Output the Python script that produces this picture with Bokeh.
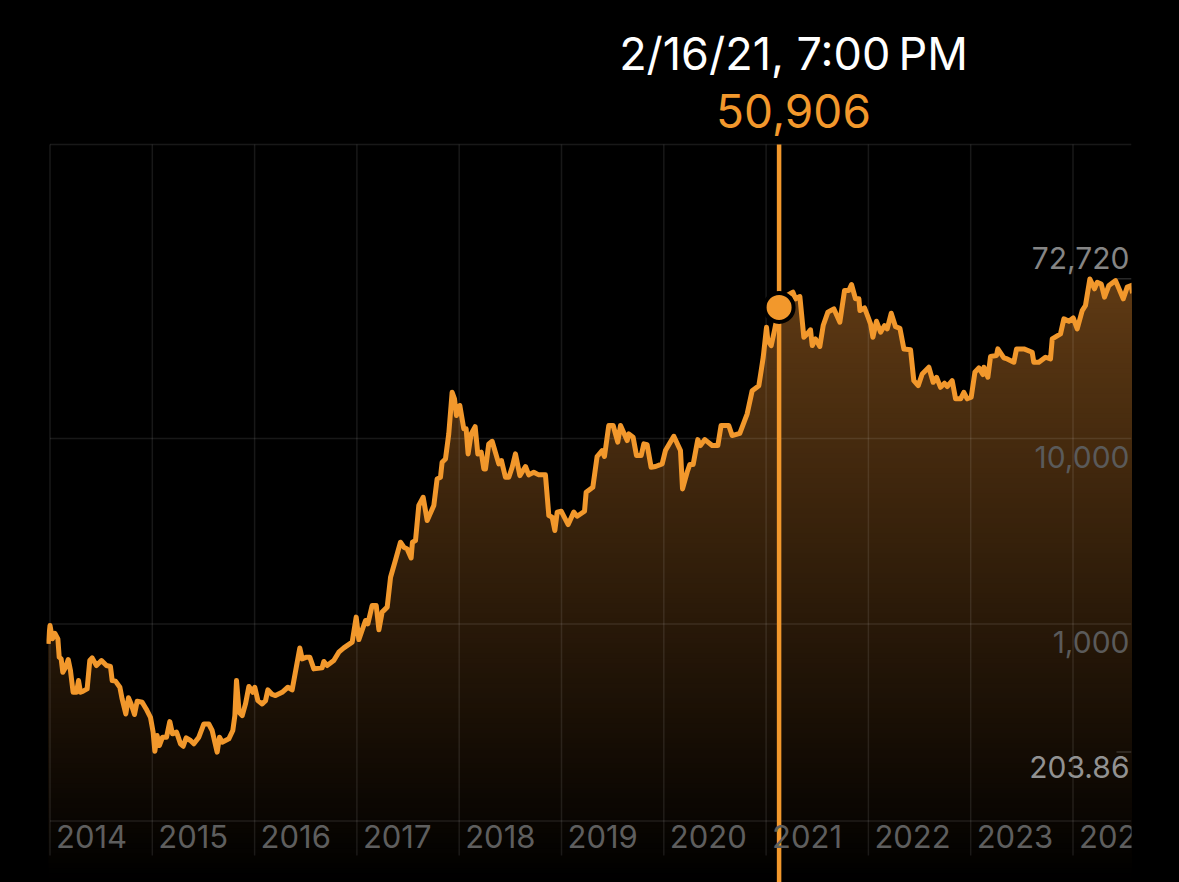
import numpy as np
from bokeh.plotting import figure
from bokeh.models import Range1d
from bokeh.core.properties import value
from bokeh.embed import file_html
from bokeh.resources import INLINE

# Price history (decimal year, log10 of price)
btc_year = [
    2013.982, 2014.000, 2014.024, 2014.047, 2014.077, 2014.090, 2014.109, 2014.125, 2014.152, 2014.178,
    2014.200, 2014.226, 2014.259, 2014.279, 2014.298, 2014.324, 2014.363, 2014.389, 2014.412, 2014.454,
    2014.503, 2014.552, 2014.591, 2014.608, 2014.640, 2014.683, 2014.705, 2014.741, 2014.767, 2014.793,
    2014.826, 2014.852, 2014.901, 2014.940, 2014.982, 2015.008, 2015.025, 2015.047, 2015.070, 2015.100,
    2015.139, 2015.171, 2015.197, 2015.237, 2015.276, 2015.302, 2015.331, 2015.373, 2015.406, 2015.455,
    2015.504, 2015.552, 2015.585, 2015.634, 2015.657, 2015.683, 2015.748, 2015.787, 2015.807, 2015.823,
    2015.849, 2015.879, 2015.911, 2015.944, 2015.983, 2016.002, 2016.032, 2016.074, 2016.107, 2016.130,
    2016.172, 2016.204, 2016.269, 2016.325, 2016.367, 2016.442, 2016.465, 2016.508, 2016.540, 2016.579,
    2016.660, 2016.677, 2016.709, 2016.774, 2016.823, 2016.872, 2016.954, 2016.993, 2017.019, 2017.084,
    2017.107, 2017.149, 2017.189, 2017.215, 2017.247, 2017.296, 2017.329, 2017.376,
    2017.426, 2017.459, 2017.491, 2017.530, 2017.543, 2017.573, 2017.605, 2017.648, 2017.687, 2017.752,
    2017.784, 2017.817, 2017.833, 2017.866, 2017.898, 2017.931, 2017.954, 2017.973, 2018.006, 2018.045,
    2018.068, 2018.087, 2018.117, 2018.156, 2018.182, 2018.215, 2018.241, 2018.257, 2018.289, 2018.322,
    2018.387, 2018.413, 2018.452, 2018.485, 2018.518, 2018.550, 2018.593, 2018.648, 2018.680, 2018.729,
    2018.778, 2018.843, 2018.876, 2018.909, 2018.935, 2018.958, 2018.997, 2019.065, 2019.120, 2019.153,
    2019.225, 2019.241, 2019.306, 2019.348, 2019.397, 2019.420, 2019.462, 2019.505, 2019.550, 2019.577,
    2019.642, 2019.658, 2019.700, 2019.733, 2019.779, 2019.805, 2019.837, 2019.876, 2019.919, 2019.984,
    2020.016, 2020.098, 2020.163, 2020.183, 2020.228, 2020.254, 2020.287, 2020.332, 2020.358, 2020.401,
    2020.473, 2020.528, 2020.560, 2020.635, 2020.668, 2020.743,
    2020.815, 2020.864, 2020.929, 2020.952, 2020.972, 2021.004, 2021.017, 2021.050, 2021.082, 2021.127,
    2021.160, 2021.206, 2021.262, 2021.288, 2021.330, 2021.369, 2021.402, 2021.434, 2021.451, 2021.483,
    2021.525, 2021.558, 2021.604, 2021.662, 2021.721, 2021.767, 2021.809, 2021.835, 2021.874, 2021.907,
    2021.917, 2021.962, 2021.995, 2022.021, 2022.044, 2022.079, 2022.119, 2022.158, 2022.184, 2022.223,
    2022.265, 2022.308, 2022.347, 2022.412, 2022.444, 2022.487, 2022.526, 2022.591, 2022.633, 2022.666,
    2022.705, 2022.744, 2022.770, 2022.819, 2022.852, 2022.901, 2022.933, 2022.966, 2023.005, 2023.041,
    2023.080, 2023.119, 2023.129, 2023.168, 2023.194, 2023.252, 2023.265, 2023.324, 2023.357, 2023.422,
    2023.448, 2023.520, 2023.601, 2023.617, 2023.666, 2023.731, 2023.780, 2023.797, 2023.878, 2023.911,
    2023.960, 2024.002, 2024.041, 2024.090, 2024.122, 2024.165, 2024.210, 2024.237, 2024.276, 2024.308,
    2024.351, 2024.416, 2024.491, 2024.530, 2024.569, 2024.582,
]
btc_log10 = [
    2.893, 2.992, 2.920, 2.950, 2.920, 2.821, 2.812, 2.740, 2.767, 2.808,
    2.749, 2.632, 2.632, 2.695, 2.632, 2.638, 2.650, 2.803, 2.817, 2.776,
    2.803, 2.776, 2.771, 2.695, 2.692, 2.659, 2.596, 2.515, 2.602, 2.569,
    2.512, 2.584, 2.578, 2.542, 2.497, 2.417, 2.314, 2.399, 2.345, 2.390,
    2.390, 2.474, 2.408, 2.417, 2.354, 2.341, 2.386, 2.372, 2.354, 2.390,
    2.461, 2.461, 2.426, 2.309, 2.390, 2.363, 2.381, 2.426, 2.506, 2.695,
    2.524, 2.506, 2.569, 2.663, 2.632, 2.659, 2.587, 2.569, 2.587, 2.645,
    2.620, 2.614, 2.632, 2.659, 2.645, 2.871, 2.812, 2.821, 2.821, 2.758,
    2.764, 2.798, 2.776, 2.803, 2.848, 2.871, 2.902, 3.037, 2.916, 3.019,
    3.001, 3.100, 3.100, 2.969, 3.064, 3.091, 3.252, 3.342,
    3.441, 3.414, 3.405, 3.356, 3.441, 3.450, 3.639, 3.683, 3.558, 3.639,
    3.782, 3.791, 3.872, 3.890, 4.025, 4.249, 4.214, 4.124, 4.178, 4.052,
    4.052, 3.917, 4.025, 4.064, 3.917, 3.926, 3.836, 3.836, 3.971, 3.985,
    3.863, 3.881, 3.791, 3.791, 3.845, 3.917, 3.800, 3.849, 3.804, 3.818,
    3.804, 3.804, 3.585, 3.576, 3.504, 3.603, 3.608, 3.536, 3.603, 3.581,
    3.608, 3.710, 3.737, 3.903, 3.935, 3.903, 4.070, 4.070, 3.980, 4.070,
    3.989, 4.025, 4.007, 3.908, 3.908, 3.971, 3.967, 3.845, 3.849, 3.863,
    3.935, 4.012, 3.935, 3.728, 3.818, 3.860, 3.860, 3.994, 3.962, 3.994,
    3.962, 3.962, 4.070, 4.070, 4.016, 4.028,
    4.133, 4.258, 4.285, 4.366, 4.438, 4.600, 4.528, 4.501, 4.582, 4.7068,
    4.730, 4.771, 4.789, 4.753, 4.765, 4.546, 4.564, 4.586, 4.501, 4.537,
    4.496, 4.609, 4.681, 4.699, 4.627, 4.798, 4.798, 4.830, 4.753, 4.753,
    4.690, 4.704, 4.657, 4.618, 4.546, 4.632, 4.573, 4.609, 4.591, 4.675,
    4.603, 4.594, 4.483, 4.478, 4.312, 4.285, 4.348, 4.384, 4.303, 4.330,
    4.276, 4.298, 4.280, 4.312, 4.214, 4.214, 4.249, 4.214, 4.223, 4.357,
    4.381, 4.345, 4.384, 4.330, 4.442, 4.447, 4.483, 4.435, 4.429, 4.411,
    4.483, 4.483, 4.465, 4.411, 4.411, 4.438, 4.429, 4.537, 4.564, 4.645,
    4.632, 4.650, 4.591, 4.689, 4.717, 4.860, 4.807, 4.842, 4.833, 4.762,
    4.825, 4.851, 4.753, 4.816, 4.825, 4.783,
]
year_ticks = [2014, 2015, 2016, 2017, 2018, 2019, 2020, 2021, 2022, 2023, 2024]
year_labels = ["2014", "2015", "2016", "2017", "2018", "2019", "2020", "2021", "2022", "2023", "2024"]
price_grid = [10000, 1000]
price_labels = ["72,720", "10,000", "1,000", "203.86"]
price_label_values = [72720, 10000, 1000, 203.86]
selected_year = [2021.127]
selected_price = [50906]
selected_date = "2/16/21, 7:00\u202fPM"
selected_text = "50,906"

ORANGE = "#f2982c"
PX_PER_YEAR = 102.3
PX_PER_DECADE = 185.5
FONT = value("Inter")


def log_at(offset_px):
    """log10 of price, offset_px above (+) or below (-) the 10,000 line."""
    return 4 + offset_px / PX_PER_DECADE


years = np.array(btc_year)
prices = 10 ** np.array(btc_log10)
y_min, y_max = 10 ** log_at(-444), 10 ** log_at(438)
x_min, x_max = 2014 - 3.5 / PX_PER_YEAR, 2014 + 1081.5 / PX_PER_YEAR
grid_top, grid_bottom, grid_tick_end = 10 ** log_at(294), 10 ** log_at(-382.5), 10 ** log_at(-417)

p = figure(width=1179, height=882, output_backend="svg", toolbar_location=None,
           x_axis_location=None, y_axis_location=None, y_axis_type="log",
           x_range=Range1d(x_min, x_max), y_range=Range1d(y_min, y_max),
           min_border_left=46, min_border_right=48, min_border_top=0, min_border_bottom=0,
           background_fill_color="black", border_fill_color="black", outline_line_color=None)
p.grid.visible = False

# Vertical fade of the area: opaque nested bands, brightest and tallest first
for offset in np.arange(160, -445, -5.0):
    fade = (442 + offset) / 600.0
    colour = (int(95 * fade), int(58 * fade), int(20 * fade))
    ceiling = 10 ** log_at(offset)
    p.varea(x=years, y1=y_min, y2=np.minimum(prices, ceiling), fill_color=colour,
            fill_alpha=1.0, level="image")

# Grid
grid_colour, grid_alpha = "#ffffff", 0.095
p.segment(x0=year_ticks, x1=year_ticks, y0=grid_top, y1=grid_tick_end, line_color=grid_colour,
          line_alpha=grid_alpha, line_width=1.5, level="underlay")
h_values = [grid_top] + price_grid + [grid_bottom]
p.segment(x0=2014, x1=x_max, y0=h_values, y1=h_values, line_color=grid_colour,
          line_alpha=grid_alpha, line_width=1.5, level="underlay")
short = [price_label_values[0], price_label_values[3]]
p.segment(x0=x_max - 15 / PX_PER_YEAR, x1=x_max, y0=short, y1=short, line_color=grid_colour,
          line_alpha=0.16, line_width=1.5, level="underlay")

# Price line, cursor and marker
p.line(years, prices, line_color=ORANGE, line_width=5, line_join="round")
p.segment(x0=selected_year, x1=selected_year, y0=grid_top, y1=y_min, line_color=ORANGE, line_width=4.5)
p.scatter(selected_year, selected_price, size=29, fill_color=ORANGE, line_color="black", line_width=4)

# Axis texts, inside the plot as in the reference
p.text(x=year_ticks, y=[grid_bottom] * len(year_ticks), text=year_labels, x_offset=6, y_offset=15,
       text_font=FONT, text_font_size="31px", text_color="#5e5e5e",
       text_align="left", text_baseline="middle")
p.text(x=[x_max] * 4, y=price_label_values, text=price_labels, x_offset=-2, y_offset=[-21, 18, 17.5, 15],
       text_font=FONT, text_font_size="30px",
       text_color=["#858585", "#5a5a5a", "#5a5a5a", "#929292"],
       text_align="right", text_baseline="middle")

# Read-out above the plot
readout_x = 2014 + 743.5 / PX_PER_YEAR
p.text(x=[readout_x], y=[10 ** log_at(385.5)], text=[selected_date], text_font=FONT,
       text_font_size="45px", text_color="white", text_align="center", text_baseline="middle")
p.text(x=[readout_x], y=[10 ** log_at(328)], text=[selected_text], text_font=FONT,
       text_font_size="46px", text_color=ORANGE, text_align="center", text_baseline="middle")

html = file_html(p, INLINE)
html = html.replace("</head>", "<style>html,body{background:#000;margin:0;overflow:hidden;}</style></head>", 1)
open("out.html", "w").write(html)
